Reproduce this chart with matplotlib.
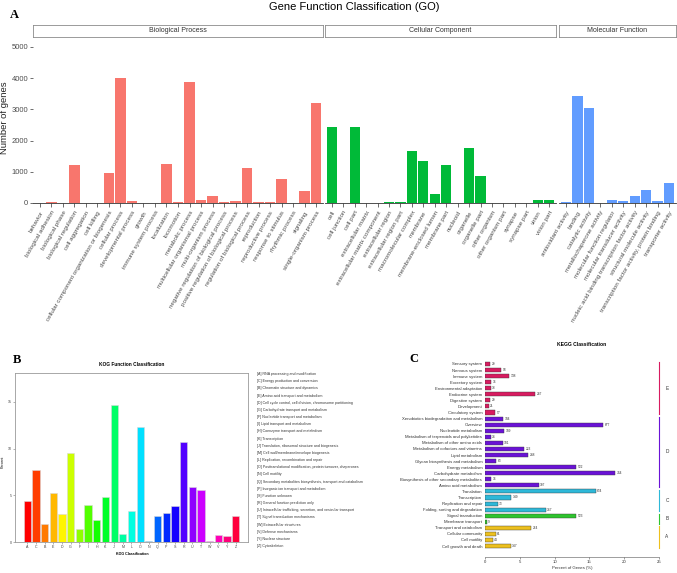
import colorsys
import matplotlib.pyplot as plt

plt.rcParams['font.family'] = ['Liberation Sans', 'DejaVu Sans']

# ---------------- data ----------------
bp_terms = ['behavior', 'biological adhesion', 'biological phase', 'biological regulation',
            'cell aggregation', 'cell killing', 'cellular component organization or biogenesis',
            'cellular process', 'developmental process', 'growth', 'immune system process',
            'localization', 'locomotion', 'metabolic process', 'multicellular organismal process',
            'multi-organism process', 'negative regulation of biological process',
            'positive regulation of biological process', 'regulation of biological process',
            'reproduction', 'reproductive process', 'response to stimulus', 'rhythmic process',
            'signaling', 'single-organism process']
bp_counts = [5, 40, 3, 1220, 2, 4, 975, 4015, 75, 6, 12, 1263, 22, 3865, 96, 225, 43, 54,
             1120, 40, 35, 760, 3, 375, 3210]

cc_terms = ['cell', 'cell junction', 'cell part', 'extracellular matrix',
            'extracellular matrix component', 'extracellular region', 'extracellular region part',
            'macromolecular complex', 'membrane', 'membrane-enclosed lumen', 'membrane part',
            'nucleoid', 'organelle', 'organelle part', 'other organism', 'other organism part',
            'synapse', 'synapse part', 'virion', 'virion part']
cc_counts = [2420, 4, 2420, 5, 2, 40, 35, 1670, 1330, 290, 1230, 2, 1755, 880, 15, 15,
             2, 2, 110, 110]

mf_terms = ['antioxidant activity', 'binding', 'catalytic activity', 'metallochaperone activity',
            'molecular function regulator', 'molecular transducer activity',
            'nucleic acid binding transcription factor activity', 'structural molecule activity',
            'transcription factor activity, protein binding', 'transporter activity']
mf_counts = [40, 3440, 3030, 2, 110, 75, 235, 430, 75, 630]

kog_letters = ['A', 'C', 'B', 'E', 'D', 'G', 'F', 'I', 'H', 'K', 'J', 'M', 'L', 'O', 'N',
               'Q', 'P', 'S', 'R', 'U', 'T', 'W', 'V', 'Y', 'Z']
kog_percent = [4.38, 7.73, 1.89, 5.24, 3.03, 9.51, 1.39, 3.92, 2.39, 4.85, 14.68, 0.89, 3.35,
               12.3, 0.07, 2.82, 3.1, 3.88, 10.69, 5.88, 5.52, 0.14, 0.75, 0.61, 2.78]
kog_names = ['RNA processing and modification', 'Energy production and conversion',
             'Chromatin structure and dynamics', 'Amino acid transport and metabolism',
             'Cell cycle control, cell division, chromosome partitioning',
             'Carbohydrate transport and metabolism', 'Nucleotide transport and metabolism',
             'Lipid transport and metabolism', 'Coenzyme transport and metabolism',
             'Transcription', 'Translation, ribosomal structure and biogenesis',
             'Cell wall/membrane/envelope biogenesis', 'Replication, recombination and repair',
             'Posttranslational modification, protein turnover, chaperones', 'Cell motility',
             'Secondary metabolites biosynthesis, transport and catabolism',
             'Inorganic ion transport and metabolism', 'Function unknown',
             'General function prediction only',
             'Intracellular trafficking, secretion, and vesicular transport',
             'Signal transduction mechanisms', 'Extracellular structures',
             'Defense mechanisms', 'Nuclear structure', 'Cytoskeleton']

kegg_terms = ['Sensory system', 'Nervous system', 'Immune system', 'Excretory system',
              'Environmental adaptation', 'Endocrine system', 'Digestive system', 'Development',
              'Circulatory system', 'Xenobiotics biodegradation and metabolism', 'Overview',
              'Nucleotide metabolism', 'Metabolism of terpenoids and polyketides',
              'Metabolism of other amino acids', 'Metabolism of cofactors and vitamins',
              'Lipid metabolism', 'Glycan biosynthesis and metabolism', 'Energy metabolism',
              'Carbohydrate metabolism', 'Biosynthesis of other secondary metabolites',
              'Amino acid metabolism', 'Translation', 'Transcription', 'Replication and repair',
              'Folding, sorting and degradation', 'Signal transduction', 'Membrane transport',
              'Transport and catabolism', 'Cellular community', 'Cell motility',
              'Cell growth and death']
kegg_counts = [29, 93, 138, 36, 33, 287, 29, 21, 57, 104, 677, 109, 34, 101, 223, 248, 63,
               522, 744, 36, 307, 634, 149, 73, 347, 523, 9, 264, 61, 44, 147]
kegg_group = ['E'] * 9 + ['D'] * 12 + ['C'] * 4 + ['B'] * 2 + ['A'] * 4
total_genes = 3980

# ---------------- figure ----------------
W, H = 677, 573
fig = plt.figure(figsize=(W / 100, H / 100), dpi=100)


def px_axes(x0, y0, x1, y1):
    return fig.add_axes([x0 / W, 1 - y1 / H, (x1 - x0) / W, (y1 - y0) / H])


def fig_text(x, y, s, **kw):
    return fig.text(x / W, 1 - y / H, s, **kw)


# ---------------- panel A ----------------
fig_text(10, 15, 'A', fontsize=9, fontweight='bold', family='Liberation Serif', va='center')
fig_text(354, 7, 'Gene Function Classification (GO)', fontsize=8, ha='center', va='center')
fig_text(5, 118, 'Number of genes', fontsize=6.8, rotation=90, ha='center', va='center',
         color='#222222')

facets = [('Biological Process', bp_terms, bp_counts, '#F8766D', 33, 323),
          ('Cellular Component', cc_terms, cc_counts, '#00BA38', 325, 556),
          ('Molecular Function', mf_terms, mf_counts, '#619CFF', 559, 676)]
for k, (name, terms, counts, col, x0, x1) in enumerate(facets):
    ax = px_axes(x0, 37, x1, 203)
    n = len(terms)
    ax.bar(range(n), counts, width=0.9, color=col)
    ax.set_xlim(-0.6, n - 0.4)
    ax.set_ylim(0, 5320)
    for s in ['top', 'right', 'left']:
        ax.spines[s].set_visible(False)
    ax.spines['bottom'].set_color('#333333')
    ax.spines['bottom'].set_linewidth(0.6)
    ax.set_xticks(range(n))
    ax.set_xticklabels(terms, rotation=60, ha='right', va='top', rotation_mode='anchor',
                       fontsize=4.5, color='#4D4D4D')
    ax.tick_params(axis='x', length=3, width=0.5, color='#333333', pad=2)
    if k == 0:
        ax.set_yticks([0, 1000, 2000, 3000, 4000, 5000])
        ax.tick_params(axis='y', length=2, width=0.5, color='#333333', labelsize=5.5,
                       labelcolor='#4D4D4D', pad=1.5)
    else:
        ax.set_yticks([])
    sax = px_axes(x0, 25, x1, 37)
    sax.set_xticks([])
    sax.set_yticks([])
    for s in sax.spines.values():
        s.set_color('#8A8A8A')
        s.set_linewidth(0.6)
    sax.text(0.5, 0.5, name, transform=sax.transAxes, ha='center', va='center',
             fontsize=5, color='#333333')

# ---------------- panel B ----------------
fig_text(13, 360, 'B', fontsize=9, fontweight='bold', family='Liberation Serif', va='center')
fig_text(132, 364, 'KOG Function Classification', fontsize=3.4, fontweight='bold',
         ha='center', va='center')
bax = px_axes(15, 373, 248, 542)
kog_x = [0.7 + 1.2 * i for i in range(len(kog_letters))]
kog_colors = [colorsys.hsv_to_rgb(i / len(kog_letters), 1, 1) for i in range(len(kog_letters))]
bax.bar(kog_x, kog_percent, width=1, color=kog_colors, edgecolor='#d8d8d8', linewidth=0.4)
bax.set_xlim(-0.992, 31.192)
bax.set_ylim(0, 18.1)
for s in bax.spines.values():
    s.set_color('#9a9a9a')
    s.set_linewidth(0.6)
bax.set_xticks(kog_x)
bax.set_xticklabels(kog_letters)
bax.set_yticks([0, 5, 10, 15])
bax.tick_params(axis='both', labelsize=2.6, length=1.5, width=0.4, color='#777777',
                labelcolor='#444444', pad=1)
fig_text(132, 554, 'KOG Classification', fontsize=2.6, fontweight='bold', ha='center',
         va='center')
fig_text(3, 462, 'Percent', fontsize=2.6, rotation=90, ha='center', va='center')
for i, (letter, name) in enumerate(zip(kog_letters, kog_names)):
    fig_text(257, 374 + 7.17 * i, f'[{letter}] {name}', fontsize=2.6, va='center',
             color='#333333')

# ---------------- panel C ----------------
fig_text(409, 359, 'C', fontsize=9, fontweight='bold', family='Liberation Serif', va='center')
fig_text(582, 344, 'KEGG Classification', fontsize=3.6, fontweight='bold', ha='center',
         va='center')
group_colors = {'E': '#D81B60', 'D': '#6A12D6', 'C': '#2EB8D8', 'B': '#2EC42E', 'A': '#EDC01E'}
cax = px_axes(485, 353, 659, 557)
kegg_pct = [c / total_genes * 100 for c in kegg_counts]
rows = range(len(kegg_terms))
cax.barh(rows, kegg_pct, height=0.68, color=[group_colors[g] for g in kegg_group],
         edgecolor='#3a3a3a', linewidth=0.3)
cax.set_xlim(0, 25)
cax.set_ylim(len(kegg_terms) - 1 + 1.8, -1.8)
for s in ['top', 'right', 'left']:
    cax.spines[s].set_visible(False)
cax.spines['bottom'].set_linewidth(0.4)
cax.spines['bottom'].set_color('#555555')
cax.set_yticks(list(rows))
cax.set_yticklabels(kegg_terms, fontsize=3.1, color='#333333')
cax.tick_params(axis='y', length=0, pad=2)
cax.set_xticks([0, 5, 10, 15, 20, 25])
cax.tick_params(axis='x', labelsize=3.1, length=1.5, width=0.4, color='#555555', pad=1,
                labelcolor='#333333')
cax.set_xlabel('Percent of Genes (%)', fontsize=3.1, labelpad=1, color='#333333')
for i, (p, c) in enumerate(zip(kegg_pct, kegg_counts)):
    cax.text(p + 0.2, i, str(c), fontsize=2.3, va='center', color='#333333')
for g in ['E', 'D', 'C', 'B', 'A']:
    idx = [i for i, gg in enumerate(kegg_group) if gg == g]
    cax.plot([25, 25], [idx[0] - 0.3, idx[-1] + 0.3], color=group_colors[g], lw=0.8,
             clip_on=False)
    cax.text(25.9, (idx[0] + idx[-1]) / 2, g, fontsize=3.4, va='center', color='#333333')

fig.savefig('out.png', dpi=100)
